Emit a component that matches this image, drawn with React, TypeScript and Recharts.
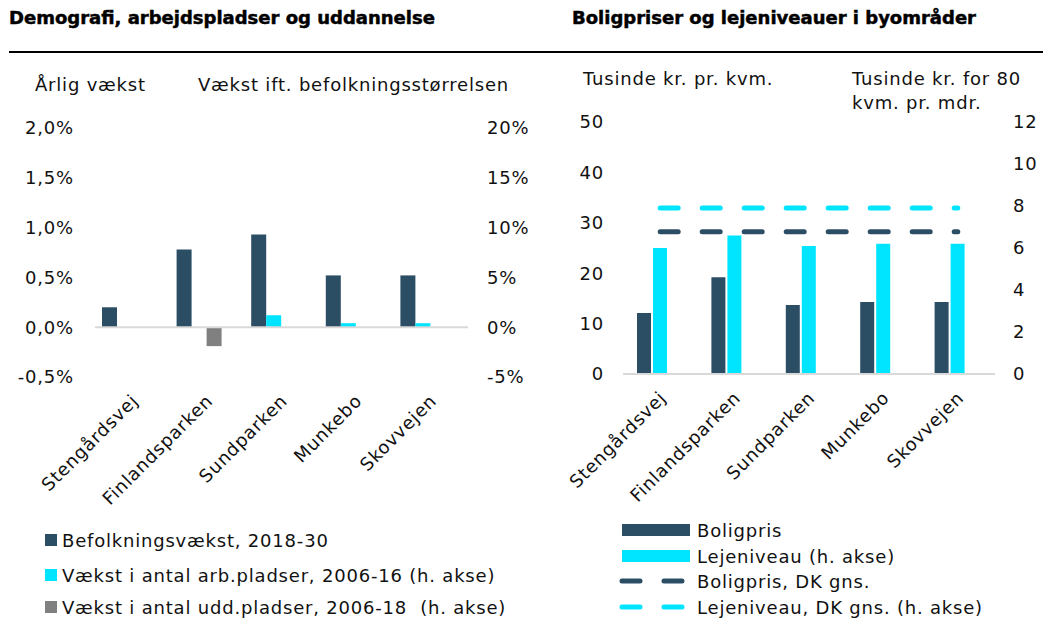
import { BarChart, ComposedChart, Bar, Line, XAxis, YAxis, ReferenceLine } from 'recharts';

const FONT = '"DejaVu Sans", sans-serif';
const FS = 18;
const LS = 0.8;
const NAVY = '#2C4E65';
const CYAN = '#00E5FF';
const GREY = '#808080';
const ZERO_LINE = '#D9D9D9';

// områder
const areas = ['Stengårdsvej', 'Finlandsparken', 'Sundparken', 'Munkebo', 'Skovvejen'];

// venstre figur (pct.)
const befolkningsvaekst = [0.2, 0.78, 0.93, 0.52, 0.52];
const arbPladser = [null, null, 1.2, 0.4, 0.4];
const uddPladser = [null, -1.9, null, null, null];
const leftTicks = [-0.5, 0, 0.5, 1, 1.5, 2];
const rightTicks = [-5, 0, 5, 10, 15, 20];

// højre figur
const boligpris = [12.1, 19.2, 13.7, 14.3, 14.3];
const lejeniveau = [6.0, 6.6, 6.1, 6.2, 6.2];
const boligprisDK = [28.2, 28.2, 28.2, 28.2, 28.2];
const lejeniveauDK = [7.9, 7.9, 7.9, 7.9, 7.9];
const prisTicks = [0, 10, 20, 30, 40, 50];
const lejeTicks = [0, 2, 4, 6, 8, 10, 12];

const demoData = areas.map((name, i) => ({
    name,
    befolkning: befolkningsvaekst[i],
    arb: arbPladser[i],
    udd: uddPladser[i],
}));

const boligData = areas.map((name, i) => ({
    name,
    pris: boligpris[i],
    leje: lejeniveau[i],
    prisDK: boligprisDK[i],
    lejeDK: lejeniveauDK[i],
}));

const fmtPct1 = (v: number) => v.toFixed(1).replace('.', ',') + '%';
const fmtPct0 = (v: number) => `${v}%`;
const fmtPlain = (v: number) => `${v}`;

const AngledTick = ({ x, y, payload }: any) => (
    <text
        transform={`translate(${x + 7},${y + 25}) rotate(-45)`}
        textAnchor="end"
        fontFamily={FONT}
        fontSize={FS}
        fill="#111"
        style={{ letterSpacing: LS }}
    >
        {payload.value}
    </text>
);

const ValueTick = ({ x, y, payload, textAnchor, fmt }: any) => (
    <text x={x} y={y} dy="0.36em" textAnchor={textAnchor} fontFamily={FONT} fontSize={FS} fill="#111" style={{ letterSpacing: LS }}>
        {fmt(payload.value)}
    </text>
);

const Txt = ({ left, top, children, style }: any) => (
    <div style={{ position: 'absolute', left, top, fontFamily: FONT, fontSize: FS, letterSpacing: LS, lineHeight: '22px', color: '#111', whiteSpace: 'pre', ...style }}>
        {children}
    </div>
);

const titleStyle = { fontWeight: 'bold', letterSpacing: 0, color: '#000', WebkitTextStroke: '0.5px #000' };

export default function App() {
    return (
        <div style={{ position: 'absolute', left: 0, top: 0, width: 1043, height: 625, background: '#fff', overflow: 'hidden' }}>
            {/* overskrifter */}
            <Txt left={9} top={7} style={titleStyle}>Demografi, arbejdspladser og uddannelse</Txt>
            <Txt left={572} top={7} style={titleStyle}>Boligpriser og lejeniveauer i byområder</Txt>
            <div style={{ position: 'absolute', left: 9, top: 51, width: 1034, height: 2, background: '#000' }} />

            {/* aksetitler */}
            <Txt left={35} top={74}>Årlig vækst</Txt>
            <Txt left={198} top={74}>Vækst ift. befolkningsstørrelsen</Txt>
            <Txt left={583} top={68}>Tusinde kr. pr. kvm.</Txt>
            <Txt left={852} top={68}>Tusinde kr. for 80</Txt>
            <Txt left={852} top={92}>kvm. pr. mdr.</Txt>

            <div style={{ position: 'absolute', left: 0, top: 0 }}>
                <BarChart width={560} height={625} data={demoData} margin={{ top: 128, right: 0, bottom: 218, left: 0 }} barGap={0} barSize={15}>
                    <XAxis dataKey="name" axisLine={false} tickLine={false} tickSize={0} tickMargin={0} height={30} interval={0} tick={<AngledTick />} />
                    <YAxis yAxisId="left" width={95} domain={[-0.5, 2]} ticks={leftTicks} axisLine={false} tickLine={false} tickSize={0} tickMargin={21} tick={<ValueTick fmt={fmtPct1} />} />
                    <YAxis yAxisId="right" orientation="right" width={92} domain={[-5, 20]} ticks={rightTicks} axisLine={false} tickLine={false} tickSize={0} tickMargin={19} tick={<ValueTick fmt={fmtPct0} />} />
                    <ReferenceLine yAxisId="left" y={0} stroke={ZERO_LINE} strokeWidth={2} />
                    <Bar yAxisId="left" dataKey="befolkning" fill={NAVY} isAnimationActive={false} />
                    <Bar yAxisId="right" dataKey="arb" fill={CYAN} isAnimationActive={false} />
                    <Bar yAxisId="right" dataKey="udd" fill={GREY} isAnimationActive={false} />
                    <Bar yAxisId="right" dataKey="pad" fill="none" isAnimationActive={false} />
                </BarChart>
            </div>

            <div style={{ position: 'absolute', left: 520, top: 0 }}>
                <ComposedChart width={523} height={625} data={boligData} margin={{ top: 122, right: 0, bottom: 221, left: 0 }} barGap={2} barSize={14}>
                    <XAxis dataKey="name" axisLine={false} tickLine={false} tickSize={0} tickMargin={0} height={30} interval={0} tick={<AngledTick />} />
                    <YAxis yAxisId="left" width={103} domain={[0, 50]} ticks={prisTicks} axisLine={false} tickLine={false} tickSize={0} tickMargin={19} tick={<ValueTick fmt={fmtPlain} />} />
                    <YAxis yAxisId="right" orientation="right" width={48} domain={[0, 12]} ticks={lejeTicks} axisLine={false} tickLine={false} tickSize={0} tickMargin={18} tick={<ValueTick fmt={fmtPlain} />} />
                    <ReferenceLine yAxisId="left" y={0} stroke={ZERO_LINE} strokeWidth={2} />
                    <Bar yAxisId="left" dataKey="pris" fill={NAVY} isAnimationActive={false} />
                    <Bar yAxisId="right" dataKey="leje" fill={CYAN} isAnimationActive={false} />
                    <Bar yAxisId="right" dataKey="pad" fill="none" isAnimationActive={false} />
                    <Line yAxisId="left" dataKey="prisDK" stroke={NAVY} strokeWidth={5} strokeDasharray="18 24" strokeLinecap="round" dot={false} activeDot={false} isAnimationActive={false} />
                    <Line yAxisId="right" dataKey="lejeDK" stroke={CYAN} strokeWidth={5} strokeDasharray="18 24" strokeLinecap="round" dot={false} activeDot={false} isAnimationActive={false} />
                </ComposedChart>
            </div>

            {/* signaturforklaring venstre */}
            {[
                { label: 'Befolkningsvækst, 2018-30', color: NAVY, top: 529 },
                { label: 'Vækst i antal arb.pladser, 2006-16 (h. akse)', color: CYAN, top: 564 },
                { label: 'Vækst i antal udd.pladser, 2006-18  (h. akse)', color: GREY, top: 596 },
            ].map((item) => (
                <div key={item.label} style={{ position: 'absolute', left: 45, top: item.top, display: 'flex', alignItems: 'center', height: 22 }}>
                    <div style={{ width: 12, height: 12, background: item.color, marginRight: 5 }} />
                    <span style={{ fontFamily: FONT, fontSize: FS, letterSpacing: LS, color: '#111', whiteSpace: 'pre' }}>{item.label}</span>
                </div>
            ))}

            {/* signaturforklaring højre */}
            {[
                { label: 'Boligpris', color: NAVY, dashed: false, top: 519 },
                { label: 'Lejeniveau (h. akse)', color: CYAN, dashed: false, top: 545 },
                { label: 'Boligpris, DK gns.', color: NAVY, dashed: true, top: 570 },
                { label: 'Lejeniveau, DK gns. (h. akse)', color: CYAN, dashed: true, top: 596 },
            ].map((item) => (
                <div key={item.label} style={{ position: 'absolute', left: 619, top: item.top, display: 'flex', alignItems: 'center', height: 22 }}>
                    {item.dashed ? (
                        <svg width={70} height={8} style={{ marginRight: 8 }}>
                            <line x1={3} y1={4} x2={67} y2={4} stroke={item.color} strokeWidth={5} strokeLinecap="round" strokeDasharray="18 24" />
                        </svg>
                    ) : (
                        <div style={{ width: 68, height: 12, background: item.color, marginLeft: 3, marginRight: 7 }} />
                    )}
                    <span style={{ fontFamily: FONT, fontSize: FS, letterSpacing: LS, color: '#111', whiteSpace: 'pre' }}>{item.label}</span>
                </div>
            ))}
        </div>
    );
}
